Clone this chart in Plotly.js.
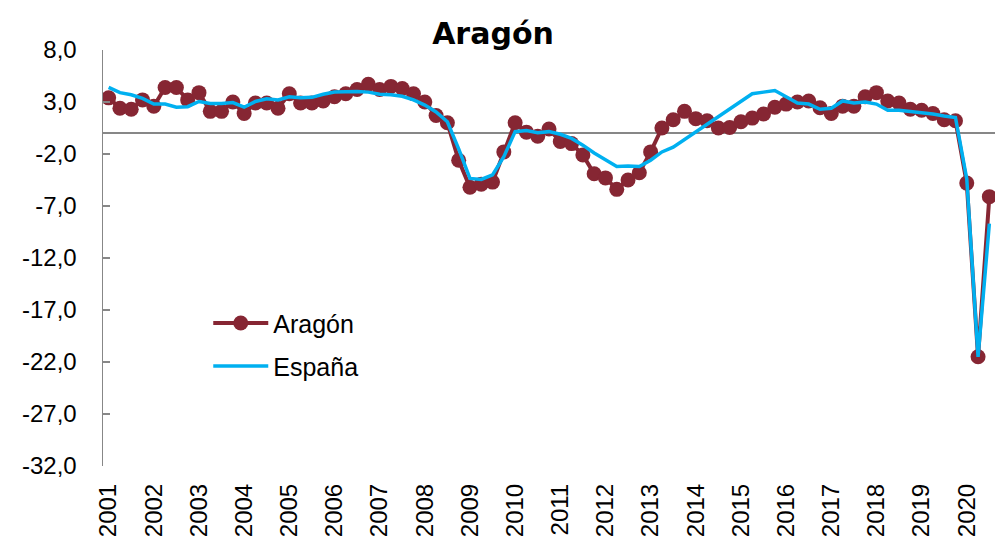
<!DOCTYPE html>
<html>
<head>
<meta charset="utf-8">
<script src="https://cdn.plot.ly/plotly-3.0.1.min.js"></script>
<style>
  html, body { margin: 0; padding: 0; background: #ffffff; }
  #chart { width: 996px; height: 551px; }
</style>
</head>
<body>
<div id="chart"></div>
<script>
// Tick labels (years) and quarterly categories 2001T1 .. 2020T3
const years = [2001, 2002, 2003, 2004, 2005, 2006, 2007, 2008, 2009, 2010,
               2011, 2012, 2013, 2014, 2015, 2016, 2017, 2018, 2019, 2020];
const quarterNames = ['T1', 'T2', 'T3', 'T4'];

// Y-axis tick values
const yTicks = [-32, -27, -22, -17, -12, -7, -2, 3, 8];

// Aragón, year-on-year change (%) by quarter
const aragon = [
  3.4, 2.4, 2.3, 3.2,    2.6, 4.4, 4.4, 3.2,    3.9, 2.1, 2.1, 3.0,
  1.9, 2.9, 2.9, 2.4,    3.8, 2.9, 2.9, 3.1,    3.5, 3.8, 4.2, 4.7,
  4.2, 4.5, 4.3, 3.8,    3.0, 1.7, 1.0, -2.6,   -5.2, -4.9, -4.7, -1.8,
  1.0, 0.1, -0.3, 0.4,   -0.8, -1.0, -2.1, -3.9, -4.3, -5.4, -4.5, -3.8,
  -1.8, 0.5, 1.3, 2.1,   1.4, 1.2, 0.5, 0.55,   1.1, 1.45, 1.85, 2.5,
  2.8, 3.0, 3.1, 2.45,   1.9, 2.6, 2.6, 3.5,    3.9, 3.1, 2.9, 2.3,
  2.2, 1.9, 1.3, 1.2,    -4.8, -21.5, -6.1
];

// España, year-on-year change (%) by quarter
const espana = [
  4.4, 3.9, 3.7, 3.35,   2.8, 2.8, 2.5, 2.55,   3.05, 2.85, 2.85, 2.95,
  2.5, 3.05, 3.3, 3.2,   3.5, 3.4, 3.45, 3.75,  3.95, 4.0, 4.0, 3.95,
  3.75, 3.7, 3.55, 3.2,  2.7, 2.05, 1.1, -1.5,  -4.35, -4.45, -4.0, -2.25,
  0.15, 0.25, 0.05, 0.15, -0.1, -0.5, -1.15, -1.9, -2.6, -3.2, -3.15, -3.2,
  -2.6, -1.8, -1.35, -0.6, 0.15, 0.8, 1.6, 2.35, 3.1, 3.8, 3.95, 4.1,
  3.5, 2.9, 2.8, 2.3,    2.4, 3.1, 2.9, 3.0,    2.8, 2.2, 2.2, 2.1,
  2.0, 1.85, 1.65, 1.5,  -4.4, -21.5, -8.7
];

const categories = [];
years.forEach(y => quarterNames.forEach(q => categories.push(y + q)));
const cats = categories.slice(0, aragon.length);

const traceAragon = {
  type: 'scatter', mode: 'lines+markers', name: 'Aragón',
  x: cats, y: aragon, legend: 'legend',
  line: { color: '#862633', width: 4 },
  marker: { color: '#862633', size: 15 },
  hoverinfo: 'x+y'
};
const traceEspana = {
  type: 'scatter', mode: 'lines', name: 'España',
  x: cats, y: espana, legend: 'legend2',
  line: { color: '#00B0F0', width: 3.5 },
  hoverinfo: 'x+y'
};

const layout = {
  width: 996, height: 551,
  margin: { l: 103, r: 1, t: 50, b: 85, pad: 0 },
  paper_bgcolor: '#ffffff', plot_bgcolor: '#ffffff',
  separators: ',.',
  font: { family: '"Liberation Sans", Arial, sans-serif', size: 24, color: '#000000' },
  title: {
    text: '<b>Aragón</b>',
    font: { family: '"DejaVu Sans", Verdana, sans-serif', size: 30, color: '#000000' },
    xref: 'container', x: 0.495, xanchor: 'center',
    yref: 'container', y: 0.94, yanchor: 'middle'
  },
  xaxis: {
    type: 'category',
    range: [-0.5, cats.length - 0.5],
    tickmode: 'array',
    tickvals: years.map(y => y + 'T1'),
    ticktext: years.map(String),
    tickangle: -90,
    ticks: '', showline: false, showgrid: false, zeroline: false,
    tickfont: { size: 24 },
    ticklabelstandoff: 12,
    fixedrange: true
  },
  yaxis: {
    range: [-32, 8],
    tickmode: 'array',
    tickvals: yTicks,
    ticktext: yTicks.map(v => v.toFixed(1).replace('.', ',')),
    showgrid: false,
    showline: true, linecolor: '#878787', linewidth: 1.5,
    ticks: 'inside', ticklen: 7, tickcolor: '#878787', tickwidth: 1.5,
    zeroline: true, zerolinecolor: '#878787', zerolinewidth: 2,
    tickfont: { size: 24 },
    ticklabelstandoff: 20,
    fixedrange: true
  },
  showlegend: true,
  legend: {
    x: 0.118, xanchor: 'left', y: 0.343, yanchor: 'middle',
    bgcolor: 'rgba(0,0,0,0)', font: { size: 25 }, itemwidth: 55
  },
  legend2: {
    x: 0.118, xanchor: 'left', y: 0.240, yanchor: 'middle',
    bgcolor: 'rgba(0,0,0,0)', font: { size: 25 }, itemwidth: 55
  }
};

Plotly.newPlot('chart', [traceAragon, traceEspana], layout, { displayModeBar: false, staticPlot: true });
</script>
</body>
</html>
